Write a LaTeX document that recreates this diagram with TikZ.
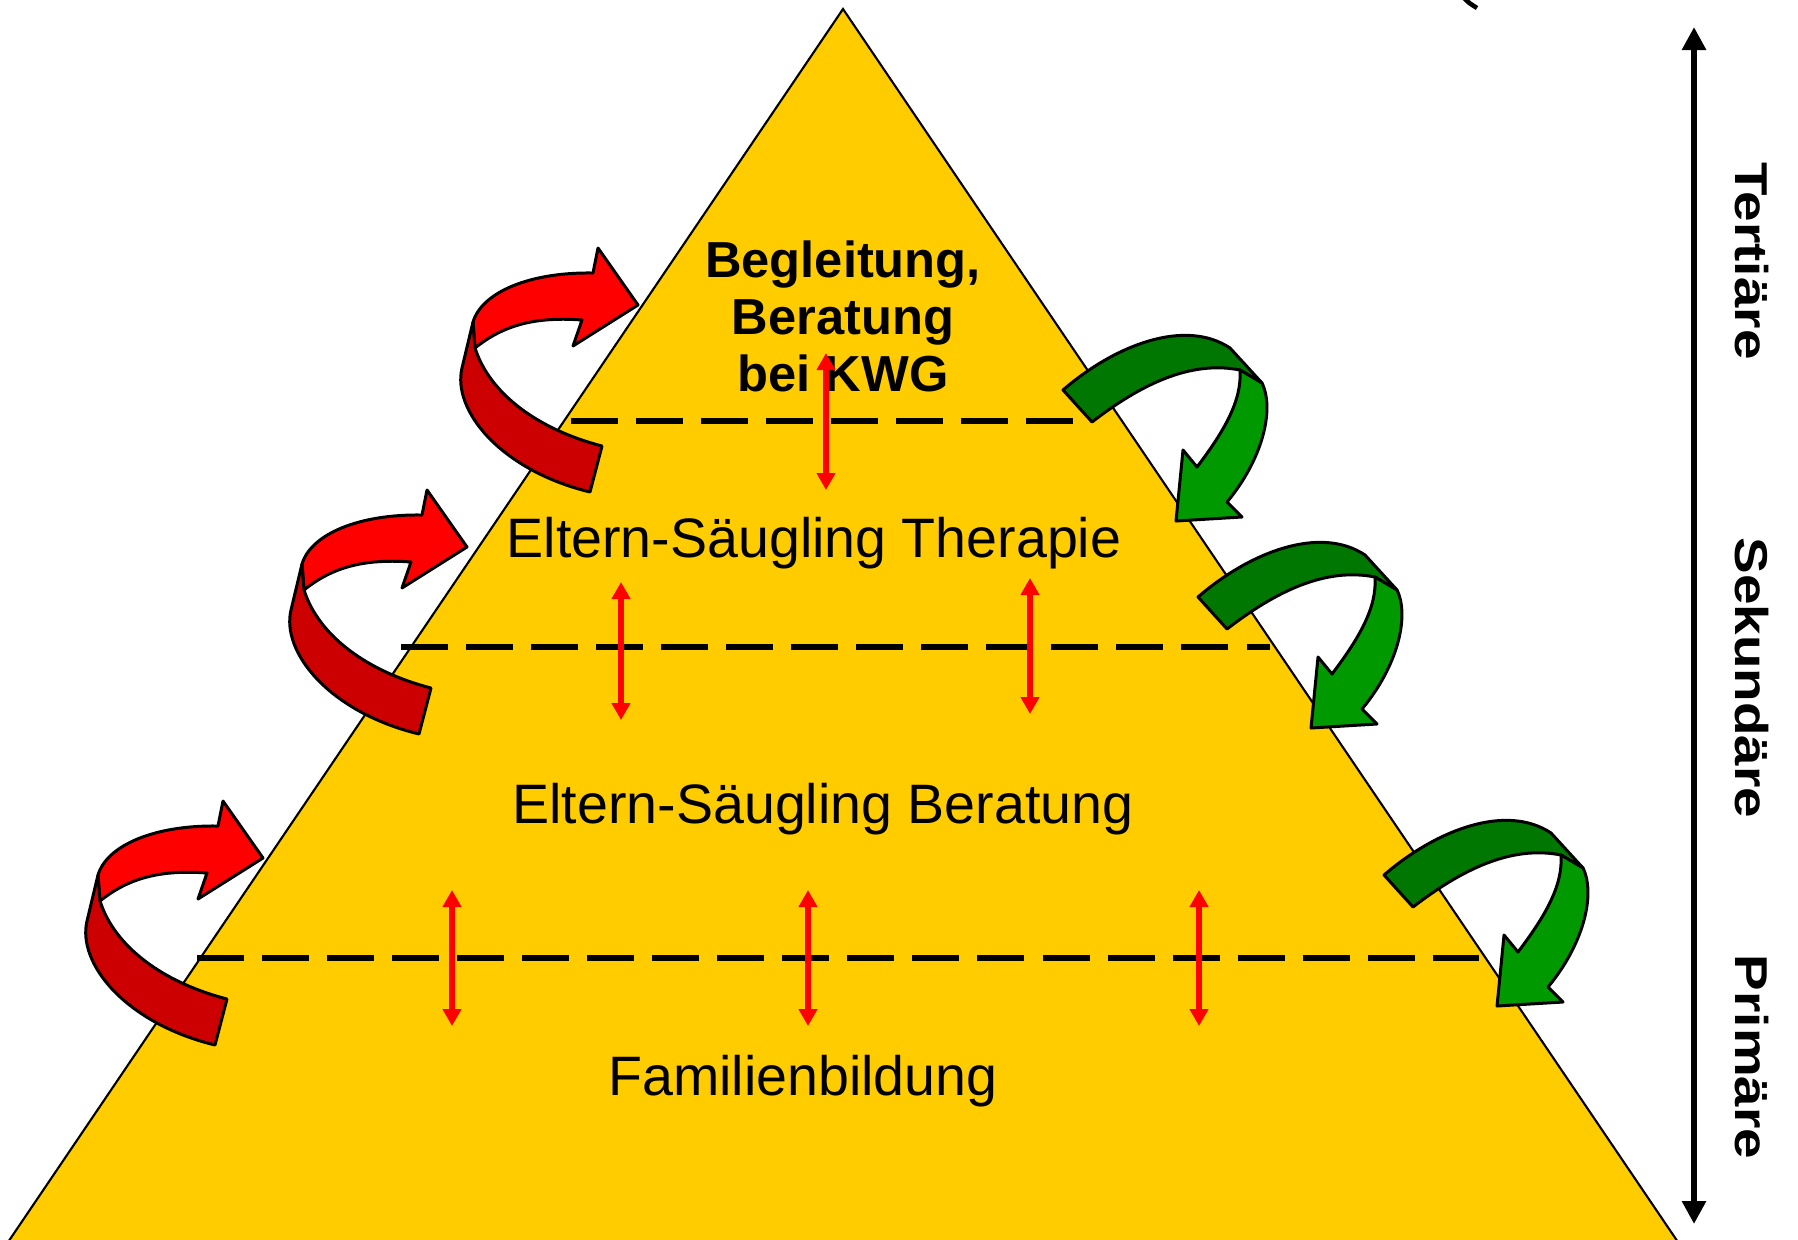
\documentclass[tikz,border=0pt]{standalone}
\usepackage{fontspec}
\usepackage{graphicx}
\setmainfont{Liberation Sans}
\usetikzlibrary{arrows.meta}
\definecolor{pyr}{HTML}{FFCC00}
\definecolor{redA}{HTML}{FF0000}
\definecolor{redB}{HTML}{CC0000}
\definecolor{grA}{HTML}{007700}
\definecolor{grB}{HTML}{009900}
\tikzset{
  level/.style={draw=black,line width=1.7pt,dash pattern=on 0.47cm off 0.18cm},
  dbl/.style={draw=red,line width=1.6pt,{Triangle[width=0.18cm,length=0.17cm]}-{Triangle[width=0.18cm,length=0.17cm]}},
  band/.style={draw=black,line width=0.85pt,line join=round},
  lab/.style={font=\fontsize{15.8}{19}\selectfont,inner sep=0pt},
  toplab/.style={font=\fontsize{14.4}{16.2}\selectfont\bfseries,inner sep=0pt,align=center},
  side/.style={font=\fontsize{13.1}{15}\selectfont\bfseries,inner sep=0pt,rotate=-90},
  redcurl/.pic={
    \path[band,fill=redA] (473,322) .. controls (482,292) and (530,272) .. (593,273)
      -- (598,248) -- (638,305) -- (573,346) -- (582,320)
      .. controls (530,316) and (500,328) .. (475,348) -- cycle;
    \path[band,fill=redB] (473,322) -- (462,368) .. controls (452,410) and (500,470) .. (590,492)
      -- (602,446) .. controls (540,430) and (490,395) .. (475,348) -- cycle;
  },
  greencurl/.pic={
    \path[band,fill=grA] (1063,390) .. controls (1115,345) and (1185,318) .. (1230,348)
      -- (1262,383) -- (1240,370) .. controls (1190,360) and (1140,385) .. (1092,422) -- cycle;
    \path[band,fill=grB] (1262,383) .. controls (1275,410) and (1262,460) .. (1227,502)
      -- (1242,517) -- (1176,521) -- (1183,450) -- (1197,467)
      .. controls (1225,430) and (1242,400) .. (1240,370) -- cycle;
  }
}
\begin{document}
\begin{tikzpicture}[x=0.01cm,y=-0.01cm]
\useasboundingbox (0,0) rectangle (1798,1239);
\clip (0,0) rectangle (1798,1239);
% pyramid
\path[fill=pyr,draw=black,line width=0.6pt] (843,9) -- (2,1251) -- (1684,1251) -- cycle;
% level lines
\coordinate (l1a) at (571,421); \coordinate (l1b) at (1090,421);
\coordinate (l2a) at (401,647); \coordinate (l2b) at (1270,647);
\coordinate (l3a) at (197,958); \coordinate (l3b) at (1479,958);
\draw[level] (l1a) -- (l1b);
\draw[level] (l2a) -- (l2b);
\draw[level] (l3a) -- (l3b);
% texts
\node[toplab] (kwg) at (843,316) {Begleitung,\\Beratung\\bei KWG};
\node[lab] (ther) at (814,543) {Eltern-Säugling Therapie};
\node[lab] (ber) at (823,809) {Eltern-Säugling Beratung};
\node[lab] (fam) at (803,1081) {Familienbildung};
% double arrows
\coordinate (d1a) at (826,353); \coordinate (d1b) at (826,490);
\coordinate (d2a) at (621,582); \coordinate (d2b) at (621,720);
\coordinate (d3a) at (1030,578); \coordinate (d3b) at (1030,714);
\coordinate (d4a) at (452,890); \coordinate (d4b) at (452,1026);
\coordinate (d5a) at (808,890); \coordinate (d5b) at (808,1026);
\coordinate (d6a) at (1199,890); \coordinate (d6b) at (1199,1026);
\draw[dbl] (d1a) -- (d1b);
\draw[dbl] (d2a) -- (d2b);
\draw[dbl] (d3a) -- (d3b);
\draw[dbl] (d4a) -- (d4b);
\draw[dbl] (d5a) -- (d5b);
\draw[dbl] (d6a) -- (d6b);
% curled arrows
\pic at (0,0) {redcurl};
\pic at (-171,242) {redcurl};
\pic at (-375,553) {redcurl};
\pic at (0,0) {greencurl};
\pic at (135,207) {greencurl};
\pic at (321,485) {greencurl};
% scale arrow
\coordinate (sa) at (1694,1224); \coordinate (sb) at (1694,27);
\draw[line width=1.9pt,{Triangle[width=0.23cm,length=0.23cm]}-{Triangle[width=0.23cm,length=0.23cm]}] (sa) -- (sb);
\node[side] (ter) at (1752,261) {\scalebox{1.19}[1]{Tertiäre}};
\node[side] (sek) at (1752,678) {\scalebox{1.19}[1]{Sekundäre}};
\node[side] (pri) at (1752,1057) {\scalebox{1.19}[1]{Primäre}};
% fragment at top
\draw[line width=1.3pt] (1464,-2) .. controls (1469,3) .. (1477,8);
\end{tikzpicture}
\end{document}
